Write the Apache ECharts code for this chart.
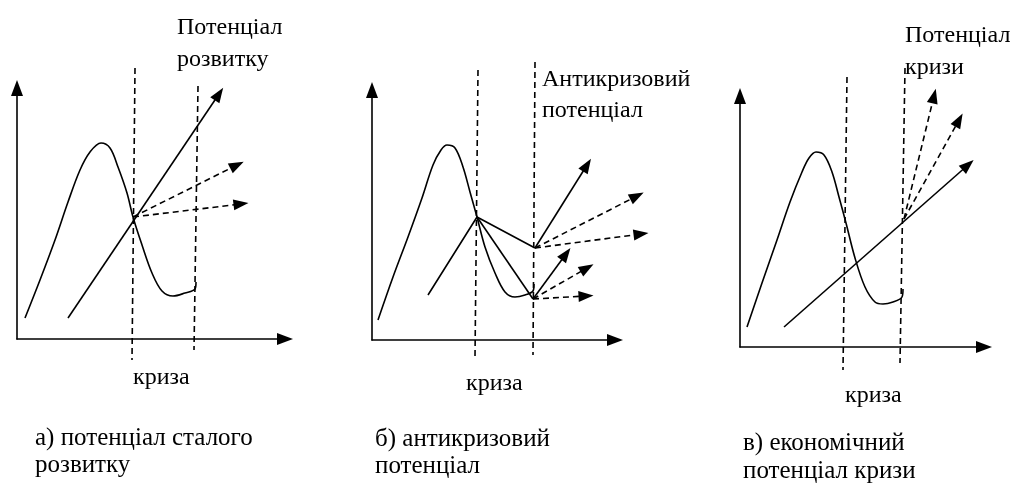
<!DOCTYPE html>
<html>
<head>
<meta charset="utf-8">
<script src="https://cdn.jsdelivr.net/npm/echarts@6/dist/echarts.min.js"></script>
<style>
  html, body { margin: 0; padding: 0; background: #fff; }
  #chart { width: 1019px; height: 485px; }
</style>
</head>
<body>
<div id="chart"></div>
<script>
// схема у "пікселях" від початку координат кожної панелі
const curveA = [[8,21],[23,59],[38,99],[51,137],[63,169],[73,187],[84,196],[93,191],[101,172],[110,146],[116,122],[125,94],[135,66],[145,48],[156,43],[168,46],[178,50],[179,57]];
const crisisA = [[[118,271],[115,-21]], [[181,253],[177,-11]]];
const solidArrowsA = [[[51,21],[202,245]]];
const dashArrowsA = [[[116,122],[220,174]], [[116,122],[224,135]]];

const curveB = [[6,20],[21,63],[36,103],[50,142],[61,175],[69,190],[75,195],[83,192],[91,173],[98,148],[105,123],[113,93],[123,67],[133,48],[143,43],[153,45],[161,49],[162,56]];
const crisisB = [[[106,270],[103,-17]], [[163,278],[161,-15]]];
const pathB = [[56,45],[105,123],[163,92]];
const branchB = [[105,123],[161,41]];
const solidArrowsB = [[[163,92],[215,175]], [[161,41],[194,86]]];
const dashArrowsB = [[[163,92],[265,144]], [[163,92],[269,106]], [[161,41],[215,72]], [[161,41],[214,44]]];

const curveC = [[7,20],[22,64],[37,107],[50,145],[62,175],[69,189],[76,195],[84,192],[92,175],[99,150],[106,124],[115,89],[125,60],[135,45],[143,43],[153,45],[162,50],[163,58]];
const crisisC = [[[107,270],[103,-23]], [[165,279],[160,-16]]];
const solidArrowsC = [[[44,20],[228,182]]];
const dashArrowsC = [[[164,128],[194,251]], [[164,128],[219,227]]];

const topLabels = [['Потенціал', 'розвитку'], ['Антикризовий', 'потенціал'], ['Потенціал', 'кризи']];
const crisisLabel = 'криза';
const captions = [['а) потенціал сталого', 'розвитку'], ['б) антикризовий', 'потенціал'], ['в) економічний', 'потенціал кризи']];

const SERIF = '"Liberation Serif", "Times New Roman", serif';
const INK = '#000';
const DASH = [6, 4];

const panels = [
  { grid: { left: 17, top: 88, width: 268, height: 251 }, curve: curveA, crisis: crisisA, solid: solidArrowsA, dashed: dashArrowsA, polylines: [] },
  { grid: { left: 372, top: 90, width: 243, height: 250 }, curve: curveB, crisis: crisisB, solid: solidArrowsB, dashed: dashArrowsB, polylines: [pathB, branchB] },
  { grid: { left: 740, top: 96, width: 244, height: 251 }, curve: curveC, crisis: crisisC, solid: solidArrowsC, dashed: dashArrowsC, polylines: [] }
];

// видимі осі зі стрілками
function axis(max, idx) {
  return {
    type: 'value', min: 0, max: max, gridIndex: idx,
    axisLine: { show: true, symbol: ['none', 'triangle'], symbolSize: [12, 16], lineStyle: { color: INK, width: 1.6 } },
    axisTick: { show: false }, axisLabel: { show: false }, splitLine: { show: false }
  };
}
// прихована ширша система з тим самим масштабом (1 од. = 1 px), щоб стрілки не обрізались
const HW = 275, HTOP = 300, HBOTTOM = 40;
function hiddenAxis(min, max, idx) {
  return { type: 'value', min: min, max: max, gridIndex: idx, show: false };
}

function plainLine(data, idx, opts) {
  return Object.assign({
    type: 'line', xAxisIndex: idx, yAxisIndex: idx, data: data,
    symbol: 'none', clip: false, silent: true,
    lineStyle: { color: INK, width: 1.6 }
  }, opts || {});
}

const grids = [], xAxes = [], yAxes = [], series = [];
panels.forEach(function (p, i) {
  grids.push(Object.assign({ outerBoundsMode: 'none' }, p.grid));
  xAxes.push(axis(p.grid.width, i));
  yAxes.push(axis(p.grid.height, i));
});
panels.forEach(function (p, i) {
  const g = p.grid, originY = g.top + g.height, k = i + 3;
  grids.push({ outerBoundsMode: 'none', left: g.left, top: originY - HTOP, width: HW, height: HTOP + HBOTTOM });
  xAxes.push(hiddenAxis(0, HW, k));
  yAxes.push(hiddenAxis(-HBOTTOM, HTOP, k));

  series.push(plainLine(p.curve, k, { smooth: 0.35 }));
  p.polylines.forEach(function (pl) { series.push(plainLine(pl, k)); });
  p.crisis.forEach(function (seg) {
    series.push(plainLine(seg, k, { lineStyle: { color: INK, width: 1.6, type: DASH } }));
  });

  const arrows = [];
  p.solid.forEach(function (s) {
    arrows.push([{ coord: s[0], lineStyle: { type: 'solid' } }, { coord: s[1] }]);
  });
  p.dashed.forEach(function (s) {
    arrows.push([{ coord: s[0], lineStyle: { type: DASH } }, { coord: s[1] }]);
  });
  series.push({
    type: 'line', xAxisIndex: k, yAxisIndex: k, data: [], clip: false, silent: true,
    markLine: {
      silent: true, animation: false,
      symbol: ['none', 'triangle'], symbolSize: [11, 15],
      label: { show: false },
      lineStyle: { color: INK, width: 1.6 },
      emphasis: { disabled: true },
      data: arrows
    }
  });
});

// підписи: позиції базових ліній тексту
const textPos = {
  top: [[177, 35, 67], [542, 87, 118], [905, 43, 75]],
  crisis: [[133, 385], [466, 391], [845, 403]],
  caption: [[35, 446, 473], [375, 447, 474], [743, 451, 479]]
};
function txt(s, x, baseline, size) {
  return { type: 'text', x: x, y: baseline - Math.round(size * 0.3), silent: true,
    style: { text: s, font: size + 'px ' + SERIF, fill: INK, align: 'left', verticalAlign: 'middle' } };
}
const graphics = [];
for (let i = 0; i < 3; i++) {
  const t = textPos.top[i], c = textPos.caption[i], k = textPos.crisis[i];
  graphics.push(txt(topLabels[i][0], t[0], t[1], 24));
  graphics.push(txt(topLabels[i][1], t[0], t[2], 24));
  graphics.push(txt(crisisLabel, k[0], k[1], 24));
  graphics.push(txt(captions[i][0], c[0], c[1], 25));
  graphics.push(txt(captions[i][1], c[0], c[2], 25));
}

const chart = echarts.init(document.getElementById('chart'), null, { renderer: 'canvas' });
chart.setOption({
  animation: false,
  backgroundColor: '#fff',
  grid: grids,
  xAxis: xAxes,
  yAxis: yAxes,
  series: series,
  graphic: graphics
});
</script>
</body>
</html>
